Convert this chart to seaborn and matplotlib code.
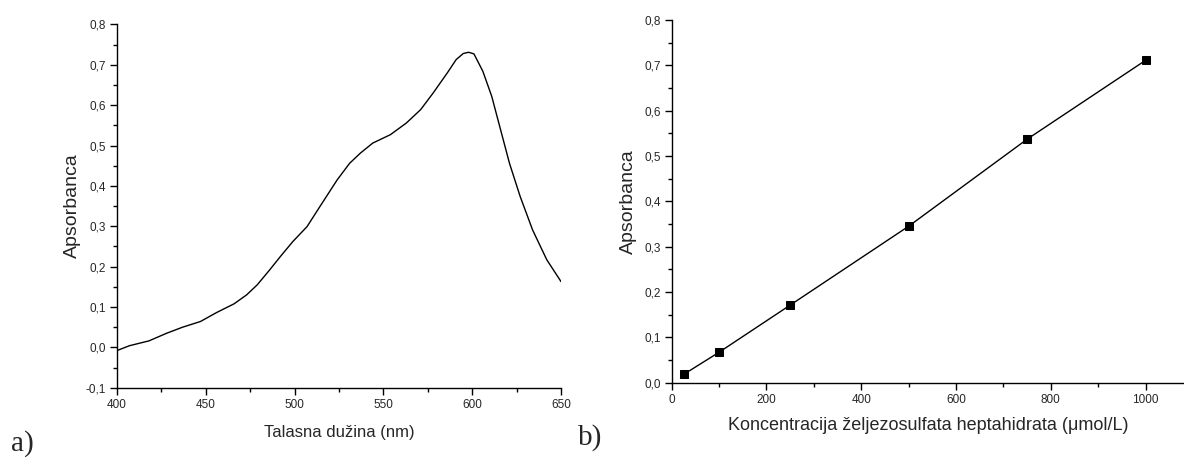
import matplotlib
matplotlib.use('Agg')
import pandas as pd
import seaborn as sns
import matplotlib.pyplot as plt
from matplotlib.ticker import AutoMinorLocator

# Spectrum (panel a)
wavelength = [400, 407, 418, 428, 437, 447, 456, 466, 473, 479, 486, 492, 499, 507,
              514, 524, 531, 537, 544, 554, 563, 571, 578, 586, 591, 595, 598, 601,
              606, 611, 616, 621, 627, 634, 642, 650]
absorbance = [-0.008, 0.004, 0.016, 0.035, 0.050, 0.064, 0.086, 0.108, 0.130, 0.155,
              0.192, 0.225, 0.262, 0.299, 0.347, 0.415, 0.456, 0.481, 0.506, 0.527,
              0.556, 0.589, 0.630, 0.680, 0.713, 0.728, 0.731, 0.727, 0.684, 0.622,
              0.539, 0.456, 0.374, 0.291, 0.217, 0.163]

# Calibration (panel b)
concentration = [25, 100, 250, 500, 750, 1000]
cal_absorbance = [0.018, 0.067, 0.171, 0.345, 0.537, 0.711]

# Tick labels
a_xticks = [400, 450, 500, 550, 600, 650]
a_yticks = [-0.1, 0.0, 0.1, 0.2, 0.3, 0.4, 0.5, 0.6, 0.7, 0.8]
a_ylabels = ['-0,1', '0,0', '0,1', '0,2', '0,3', '0,4', '0,5', '0,6', '0,7', '0,8']
b_xticks = [0, 200, 400, 600, 800, 1000]
b_yticks = [0.0, 0.1, 0.2, 0.3, 0.4, 0.5, 0.6, 0.7, 0.8]
b_ylabels = ['0,0', '0,1', '0,2', '0,3', '0,4', '0,5', '0,6', '0,7', '0,8']

spec_df = pd.DataFrame({'wl': wavelength, 'abs': absorbance})
cal_df = pd.DataFrame({'c': concentration, 'abs': cal_absorbance})

sns.set_theme(style='ticks')
plt.rcParams['font.family'] = ['Liberation Sans', 'DejaVu Sans']

fig = plt.figure(figsize=(11.84, 4.61), dpi=100)
ax1 = fig.add_axes([0.0988, 0.159, 0.375, 0.788])
ax2 = fig.add_axes([0.5673, 0.170, 0.4327, 0.7867])

# Panel a
sns.lineplot(data=spec_df, x='wl', y='abs', ax=ax1, color='black', lw=1.0,
             estimator=None, sort=False)
ax1.set_xlim(400, 650)
ax1.set_ylim(-0.1, 0.8)
ax1.set_xticks(a_xticks)
ax1.set_yticks(a_yticks)
ax1.set_yticklabels(a_ylabels)
ax1.set_xlabel('Talasna dužina (nm)', fontsize=12, labelpad=10)
ax1.set_ylabel('Apsorbanca', fontsize=14, labelpad=3)

# Panel b
sns.lineplot(data=cal_df, x='c', y='abs', ax=ax2, color='black', lw=1.0,
             marker='s', markersize=6, markeredgecolor='black', estimator=None)
ax2.set_xlim(0, 1081)
ax2.set_ylim(0.0, 0.8)
ax2.set_xticks(b_xticks)
ax2.set_yticks(b_yticks)
ax2.set_yticklabels(b_ylabels)
ax2.set_xlabel('Koncentracija željezosulfata heptahidrata (μmol/L)', fontsize=13, labelpad=8)
ax2.set_ylabel('Apsorbanca', fontsize=14, labelpad=5)

for ax in (ax1, ax2):
    sns.despine(ax=ax)
    for side in ('left', 'bottom'):
        ax.spines[side].set_color('black')
        ax.spines[side].set_linewidth(1.0)
    ax.xaxis.set_minor_locator(AutoMinorLocator(2))
    ax.yaxis.set_minor_locator(AutoMinorLocator(2))
    ax.tick_params(which='major', direction='out', length=5, width=1, labelsize=8.5,
                   color='black', pad=3)
    ax.tick_params(which='minor', direction='out', length=3, width=1, color='black')

fig.text(0.009, 0.022, 'a)', fontsize=21, family='Liberation Serif')
fig.text(0.488, 0.035, 'b)', fontsize=21, family='Liberation Serif')

plt.savefig('out.png', dpi=100)
